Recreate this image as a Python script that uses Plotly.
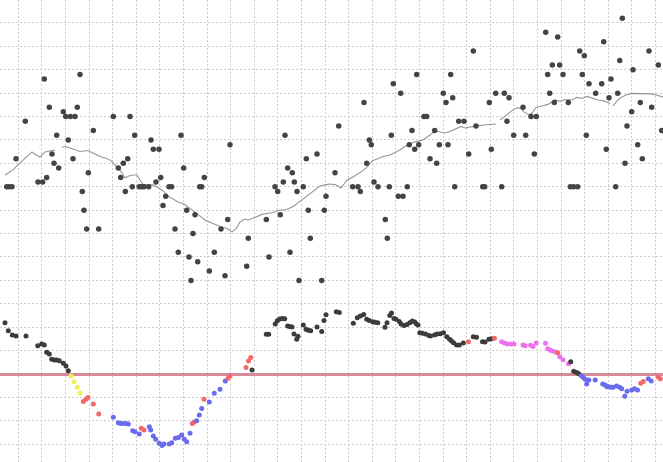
import plotly.graph_objects as go

# ---------------- data ----------------
# top panel: daily values (t = bar position, v = value)
top_t = [6.7, 9.3, 12, 16, 25.3, 38, 42.7, 44.3, 46.7, 49.3, 52, 54, 56.7, 58.7, 63.3, 65.7, 68.3, 70.3, 73, 75,
         77.3, 80, 82.3, 84, 86.7, 88.3, 93.3, 98.7, 113.3, 118.3, 120.7, 123.3, 125.3, 127.7, 130, 132.3, 134.7,
         139.3, 141.7, 144, 148.7, 151, 153.3, 156, 159, 160.7, 163, 165.7, 169, 171.7, 175, 178.3, 181, 183.7,
         186.7, 189, 191, 193, 195, 197.7, 199.7, 201.7, 204.3, 209.3, 214.3, 221, 225, 227.7, 230, 246.7, 248.3,
         266.3, 269, 275, 277.7, 280.3, 283.3, 285, 287.7, 290, 292.3, 294.3, 297, 299, 303.3, 306.3, 308.3, 310.3,
         317, 321.7, 324.3, 326, 335, 338.7, 352.7, 358, 360.3, 364, 366.7, 369.3, 371.3, 374, 378, 385.3, 387.3,
         389.3, 391.3, 393.3, 398.3, 400.7, 403, 407.3, 409.3, 412, 414.7, 416.7, 418.7, 424, 426.7, 430, 434.7,
         436.7, 439.3, 443.3, 446, 448, 450.7, 452.7, 454.7, 458.7, 464, 468.7, 473.3, 476, 482.7, 484.7, 489.3,
         491.3, 495.7, 501.7, 504.3, 507, 509, 513.7, 523, 525.7, 531, 534.3, 536.3, 545.7, 547.7, 549.7, 552.3,
         554.3, 557.7, 559.7, 563, 568.3, 570.3, 573.7, 577.7, 579.7, 582.3, 584.3, 586.3, 589, 595.7, 601.7,
         603.7, 606.3, 609, 611, 615.7, 617.7, 619.7, 622.3, 625, 627, 631.7, 633, 637.7, 640.3, 642.3, 649,
         651.7, 658.3, 661.7]
top_v = [8.0, 8.0, 8.0, 9.2, 10.8, 8.2, 8.2, 12.6, 8.4, 11.4, 9.4, 9.0, 10.2, 8.8, 11.2, 11.0, 10.0, 11.0, 9.2, 11.0,
         11.4, 12.8, 7.8, 7.0, 6.2, 8.6, 10.4, 6.2, 11.0, 8.8, 8.4, 9.0, 7.8, 9.2, 11.0, 8.0, 10.2,
         8.0, 8.0, 8.0, 8.0, 10.0, 9.6, 8.2, 9.6, 8.4, 7.2, 7.6, 8.0, 8.0, 6.2, 5.2, 10.2, 8.8,
         7.0, 5.0, 4.0, 6.0, 6.8, 4.8, 8.0, 8.0, 8.4, 4.4, 5.2, 6.2, 4.2, 6.6, 9.8, 4.6, 5.8,
         6.6, 5.0, 8.0, 7.8, 6.8, 8.2, 10.2, 8.8, 5.2, 8.6, 8.2, 7.8, 4.0, 8.0, 9.2, 7.0, 5.8,
         9.4, 4.0, 7.0, 7.6, 8.6, 10.6, 8.0, 8.0, 7.8, 11.6, 9.0, 10.0, 9.8, 8.2, 8.0, 6.6, 5.8,
         8.0, 10.2, 12.4, 7.6, 12.0, 7.6, 8.0, 9.8, 10.4, 9.6, 12.8, 9.8, 11.0, 11.0, 9.2, 10.4,
         9.0, 9.8, 12.0, 11.6, 9.8, 12.8, 11.8, 8.0, 10.8, 10.8, 9.4, 13.8, 10.6, 8.0, 8.0, 11.6,
         9.6, 12.0, 8.0, 12.0, 10.8, 11.8, 10.2, 11.4, 10.2, 11.0, 9.4, 11.0, 14.6, 12.8, 12.0, 13.2,
         11.6, 14.4, 13.2, 12.8, 11.6, 8.0, 8.0, 8.0, 13.8, 12.8, 13.6, 10.2, 12.4, 12.0, 12.4,
         14.2, 9.6, 11.8, 12.6, 8.0, 12.0, 13.4, 15.2, 9.0, 10.6, 11.2, 13.0, 9.8, 11.6, 9.2, 13.8,
         11.4, 13.2, 10.4]

# moving-average line (None = break in the line)
ma_t = [5, 13, 20, 27, 32, 36, 40, 45, 50, 55, 58, 62, 66, 70, 75, 80, 84, 88, 93, 100, 105, 110, 116, 121, 125,
        129, 133, 137, 140, 143, 148, 153, 158, 163, 168, 173, 178, 184, 188, 192, 198, 205, 212, 220, 227, 232,
        236, 240, 245, 248, 253, 258, 262, 267, 273, 280, 285, 290, 294, 298, 303, 308, 312, 316, 320, 325, 330,
        336, 341, 344, 347, 353, 360, 364, 368, 372, 377, 383, 390, 397, 400, 405, 410, 417, 423, 430, 434, 438,
        445, 450, 456, 461, 465, 470, 477, 483, 490, 496, 498, 500, 505, 511, 517, 521, 524, 529, 532, 536, 542,
        548, 555, 560, 565, 572, 577, 582, 587, 592, 598, 604, 610, 611.5, 613, 618, 622, 626, 632, 641, 651,
        656, 663]
ma_v = [8.50, 8.72, 9.02, 9.27, 9.49, 9.36, 9.27, 9.49, 9.53, 9.57, None, 9.70, 9.72, 9.66, 9.57, 9.51, 9.53,
        9.55, 9.44, 9.29, 9.23, 9.15, 8.89, 8.65, 8.38, 8.46, 8.50, 8.50, 8.29, 8.10, 8.08, 8.08, 7.97, 7.82,
        7.61, 7.48, 7.35, 7.26, 7.14, 7.01, 6.82, 6.58, 6.45, 6.30, 6.22, 6.07, 6.20, 6.50, 6.62, 6.58, 6.65,
        6.75, 6.82, 6.86, 6.90, 7.01, 7.01, 7.09, 7.18, 7.31, 7.48, 7.65, 7.78, 7.91, 8.03, 8.08, 8.12, 8.08,
        7.95, 8.12, 8.29, 8.42, 8.59, 8.72, 8.89, 9.10, 9.19, 9.29, 9.36, 9.51, 9.57, 9.72, 9.85, 9.94, 10.00,
        10.21, 10.36, 10.36, 10.30, 10.36, 10.49, 10.58, 10.51, 10.56, 10.60, 10.64, 10.66, 10.68, None, 10.85,
        11.03, 11.22, 11.37, 11.35, 11.20, 11.07, 11.15, 11.39, 11.45, 11.52, 11.71, 11.65, 11.73, 11.71,
        11.82, 11.77, 11.86, 11.79, 11.71, 11.67, 11.56, None, 11.45, 11.71, 11.84, 11.92, 11.99, 11.97, 11.97,
        11.92, 11.84]

# bottom panel: oscillator values and their state
osc_t = [5, 8.3, 12.3, 16, 26, 37.7, 41.7, 44.3, 46.7, 49.3, 51.7, 54.3, 56.7, 59.3, 63.3, 66, 68.3,
         71, 74, 77.3, 80,
         83.3, 86, 88, 93.3, 98.7,
         113.3, 118.3, 120.7, 123.3, 126, 128.3, 132.7, 135, 139.3,
         141.3, 144,
         149.3, 150.7, 153.3, 155.7, 159.3, 162, 164, 169.3, 171.7, 175.3, 178.3, 181.7, 184.3, 186.7, 190,
         192.3, 194,
         196.7, 199.3, 201.7,
         204,
         209.3, 214.3, 220, 225.3,
         228, 230, 246, 248.5, 250.7,
         252, 266.3, 268.7, 275.2, 277.3, 279.7, 282.2, 284.7, 287.7, 289.7, 292, 294, 296.7, 298, 303.3, 306,
         308.2, 310.7, 317, 321.7, 324, 326, 336.3, 339.3, 353.3, 357.3, 360.3, 363.7, 366.7, 369.3, 372.7, 375,
         377.8, 385, 387, 389.8, 391.5, 394, 396, 399.3, 401, 404, 407, 409.8, 412.3, 414.7, 416.5, 418, 419.8,
         422.3, 425.5, 428.8, 430.5, 434.5, 437, 440.3, 443.5, 446.8, 449.6, 451.5, 453.5, 456.5, 459.3, 463.3,
         468.5,
         473.3, 476.5, 482.5, 485, 488.9, 491.5,
         494.5,
         501.7, 504.5, 507.5, 511, 514, 523, 525.2, 530.5, 533, 536.2, 545.5, 547.8, 550.4, 553.3, 556.3,
         557.8,
         559.7, 563, 568.5,
         570.7, 573.7, 576.6, 578.8,
         581.2, 583.3, 585.2, 586.7, 588.8, 595.2, 602.7, 605.2, 607, 608.8, 611, 613, 616.6, 619.6, 621.7,
         624.8, 627, 631.7, 634.5, 637.5,
         640.7, 643.3,
         648.3, 651.2,
         658.3, 660.3]
osc_v = [2.19, 1.85, 1.67, 1.62, 1.62, 1.21, 1.28, 1.24, 0.93, 0.85, 0.63, 0.60, 0.60, 0.57, 0.46, 0.34, 0.14,
         -0.09, -0.33, -0.57, -0.82,
         -1.18, -1.08, -1.00, -1.28, -1.71,
         -1.85, -2.08, -2.11, -2.11, -2.11, -2.14, -2.42, -2.47, -2.56,
         -2.32, -2.39,
         -2.25, -2.39, -2.65, -2.79, -2.96, -3.06, -2.99, -2.99, -2.94, -2.75, -2.71, -2.61, -2.79, -2.89, -2.53,
         -2.11, -2.05,
         -2.00, -1.75, -1.47,
         -1.08,
         -1.20, -0.82, -0.65, -0.30,
         -0.18, -0.09, 0.28, 0.56, 0.71,
         0.17, 1.70, 1.70, 2.14, 2.28, 2.35, 2.37, 2.36, 2.05, 2.03, 2.01, 1.71, 1.48, 1.61, 2.09, 1.91,
         1.87, 1.85, 2.01, 1.82, 2.29, 2.53, 2.66, 2.63, 2.17, 2.40, 2.48, 2.54, 2.34, 2.29, 2.23, 2.21,
         2.19, 2.00, 2.19, 2.50, 2.61, 2.37, 2.34, 2.24, 2.14, 2.07, 2.12, 2.19, 2.26, 2.22, 2.14, 2.09, 1.76,
         1.74, 1.71, 1.65, 1.62, 1.67, 1.71, 1.72, 1.76, 1.59, 1.48, 1.41, 1.33, 1.24, 1.24, 1.32,
         1.38,
         1.59, 1.57, 1.38, 1.37, 1.48, 1.51,
         1.53,
         1.38, 1.32, 1.28, 1.28, 1.28, 1.24, 1.21, 1.23, 1.18, 1.32, 1.31, 1.08, 1.01, 0.97, 0.93,
         0.91,
         0.74, 0.61, 0.44,
         0.52, 0.12, 0.06, 0.01,
         -0.08, -0.15, -0.22, -0.43, -0.26, -0.26, -0.43, -0.47, -0.54, -0.54, -0.57, -0.57, -0.51, -0.57, -0.63,
         -0.95, -0.74, -0.68, -0.63, -0.68,
         -0.40, -0.32,
         -0.20, -0.30,
         -0.13, -0.20]
osc_state = (["neutral"] * 17 + ["weak"] * 4 + ["turn"] * 5 + ["down"] * 9 + ["turn"] * 2 + ["down"] * 15 +
             ["turn"] * 2 + ["down"] * 3 + ["turn"] * 1 + ["down"] * 4 + ["turn"] * 5 + ["neutral"] * 64 +
             ["turn"] * 1 + ["neutral"] * 6 + ["turn"] * 1 + ["up"] * 15 + ["turn"] * 1 + ["up"] * 3 +
             ["neutral"] * 4 + ["down"] * 20 + ["turn"] * 2 + ["down"] * 2 + ["turn"] * 2)

state_colors = {"neutral": "#3c3c3c", "weak": "#f2ee5a", "turn": "#f26a6a", "down": "#6b6bf0", "up": "#ec72ec"}

# ---------------- figure ----------------
fig = go.Figure()

fig.add_trace(go.Scatter(x=ma_t, y=ma_v, mode="lines", connectgaps=False,
                         line=dict(color="#959595", width=1.1), hoverinfo="skip"))
fig.add_trace(go.Scatter(x=top_t, y=top_v, mode="markers",
                         marker=dict(color="#444444", size=5.5, line=dict(width=0))))
fig.add_trace(go.Scatter(x=osc_t, y=osc_v, mode="markers",
                         marker=dict(color=[state_colors[s] for s in osc_state], size=5, line=dict(width=0))))

axis_common = dict(showgrid=True, gridcolor="#cdcdcd", gridwidth=1, griddash="2px,2px",
                   showticklabels=False, ticks="", showline=False)

fig.update_layout(
    width=663, height=462,
    margin=dict(l=0, r=0, t=0, b=0),
    paper_bgcolor="white", plot_bgcolor="white",
    showlegend=False,
    xaxis=dict(range=[0, 663], tick0=18.2, dtick=23.6, zeroline=False, **axis_common),
    yaxis=dict(range=[-3.76, 15.98], tick0=0, dtick=1, zeroline=True,
               zerolinecolor="#d48c9c", zerolinewidth=3, **axis_common),
)

fig.write_html("out.html", config={"displayModeBar": False},
               post_script="document.body.style.margin='0';document.body.style.overflow='hidden';")
